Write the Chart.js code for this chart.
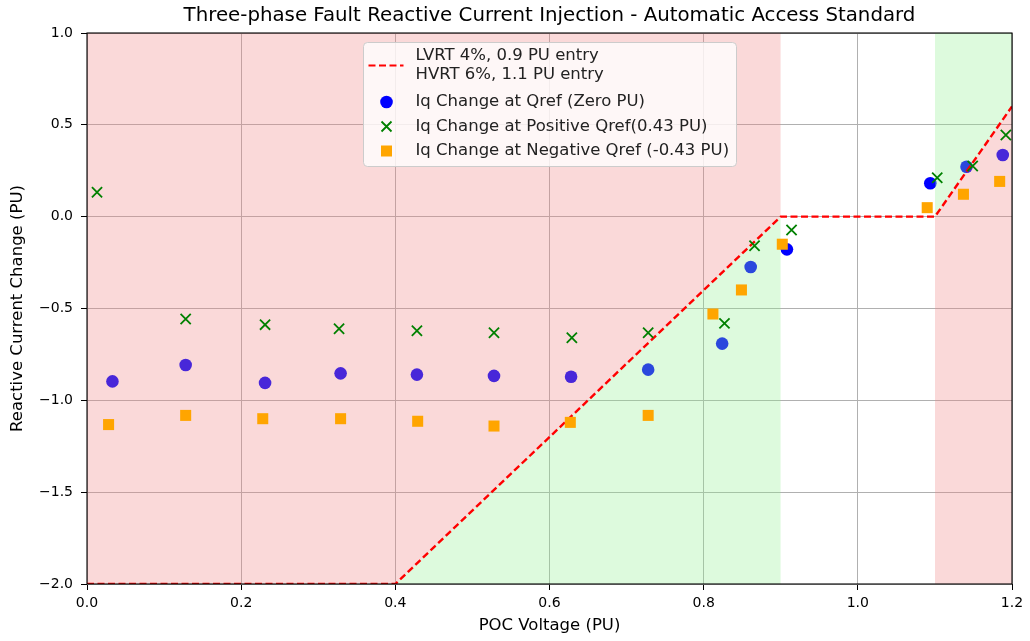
<!DOCTYPE html>
<html><head><meta charset="utf-8">
<script src="https://cdn.jsdelivr.net/npm/chart.js@4.4.0/dist/chart.umd.min.js"></script>
<style>html,body{margin:0;padding:0;background:#fff;} #wrap{width:1030px;height:641px;}</style>
</head><body><div id="wrap"><canvas id="c" width="1030" height="641"></canvas></div>
<script>
// ---- data ----
const voltageZero = [0.033,0.128,0.231,0.329,0.428,0.528,0.628,0.728,0.824,0.861,0.908,1.094,1.141,1.188];
const iqZero      = [-0.897,-0.808,-0.905,-0.853,-0.860,-0.867,-0.872,-0.833,-0.691,-0.274,-0.178,0.182,0.272,0.336];
const voltagePos  = [0.013,0.128,0.231,0.327,0.428,0.528,0.629,0.728,0.827,0.866,0.914,1.103,1.149,1.192];
const iqPos       = [0.133,-0.557,-0.588,-0.610,-0.621,-0.632,-0.659,-0.632,-0.581,-0.158,-0.073,0.212,0.276,0.445];
const voltageNeg  = [0.028,0.128,0.228,0.329,0.429,0.528,0.627,0.728,0.812,0.849,0.902,1.090,1.137,1.184];
const iqNeg       = [-1.132,-1.082,-1.100,-1.100,-1.114,-1.140,-1.120,-1.082,-0.530,-0.399,-0.150,0.049,0.122,0.192];
const limitVoltage = [0, 0.4, 0.9, 1.1, 1.2];
const limitIq      = [-2, -2, 0, 0, 0.6];
const limitLabel = ["LVRT 4%, 0.9 PU entry", "HVRT 6%, 1.1 PU entry"];
const zeroLabel = "Iq Change at Qref (Zero PU)";
const posLabel = "Iq Change at Positive Qref(0.43 PU)";
const negLabel = "Iq Change at Negative Qref (-0.43 PU)";
const titleText = "Three-phase Fault Reactive Current Injection - Automatic Access Standard";
const xAxisLabel = "POC Voltage (PU)";
const yAxisLabel = "Reactive Current Change (PU)";
const xRange = [0, 1.2], xStep = 0.2;
const yRange = [-2, 1], yStep = 0.5;

const pts = (xs, ys) => xs.map((x, i) => ({x, y: ys[i]}));
const limitPts = pts(limitVoltage, limitIq);
const lvrtPts = limitPts.slice(0, 3);
const lvrtRampPts = limitPts.slice(1, 3);
const hvrtPts = limitPts.slice(3, 5);

const FONT = "'DejaVu Sans', sans-serif";
const PINK = 'rgba(240,128,128,0.3)';
const LGREEN = 'rgba(144,238,144,0.3)';
const fmt = v => { const s = Number(v).toFixed(1); return s.replace('-', '\u2212'); };

const fillDs = (data, fill, color, order) => ({
  type: 'line', data, fill, backgroundColor: color, borderColor: 'rgba(0,0,0,0)',
  borderWidth: 0, pointRadius: 0, order, showLine: true, tension: 0
});

const frameAndLegend = {
  id: 'frameAndLegend',
  afterDraw(chart) {
    const ctx = chart.ctx, a = chart.chartArea;
    ctx.save();
    ctx.strokeStyle = '#000'; ctx.lineWidth = 1.1;
    ctx.strokeRect(a.left, a.top, a.right - a.left, a.bottom - a.top);
    // title centred over the axes
    ctx.font = '19.8px ' + FONT; ctx.fillStyle = '#000'; ctx.textAlign = 'center'; ctx.textBaseline = 'middle';
    ctx.fillText(titleText, (a.left + a.right) / 2, a.top - 17);
    // legend (upper center)
    const w = 373, h = 124;
    const lx = Math.round((a.left + a.right) / 2 - w / 2) + 0.5, ly = a.top + 9.5;
    ctx.beginPath();
    if (ctx.roundRect) ctx.roundRect(lx, ly, w, h, 4); else ctx.rect(lx, ly, w, h);
    ctx.fillStyle = 'rgba(255,255,255,0.8)'; ctx.fill();
    ctx.strokeStyle = '#cccccc'; ctx.lineWidth = 1; ctx.stroke();
    const mx = lx + 23, tx = lx + 52;
    ctx.font = '16.5px ' + FONT; ctx.fillStyle = '#222'; ctx.textBaseline = 'middle'; ctx.textAlign = 'left';
    // line entry
    ctx.fillText(limitLabel[0], tx, ly + 13.5);
    ctx.fillText(limitLabel[1], tx, ly + 32);
    ctx.save(); ctx.strokeStyle = 'red'; ctx.lineWidth = 2.2; ctx.setLineDash([7, 3.5]);
    ctx.beginPath(); ctx.moveTo(lx + 5, ly + 23); ctx.lineTo(lx + 40, ly + 23); ctx.stroke(); ctx.restore();
    // blue
    ctx.fillText(zeroLabel, tx, ly + 59.5);
    ctx.fillStyle = 'blue'; ctx.beginPath(); ctx.arc(mx, ly + 59.5, 6.3, 0, Math.PI * 2); ctx.fill();
    // green x
    ctx.fillStyle = '#222';
    ctx.fillText(posLabel, tx, ly + 84);
    ctx.strokeStyle = 'green'; ctx.lineWidth = 1.8; const d = 5;
    ctx.beginPath(); ctx.moveTo(mx - d, ly + 84 - d); ctx.lineTo(mx + d, ly + 84 + d);
    ctx.moveTo(mx - d, ly + 84 + d); ctx.lineTo(mx + d, ly + 84 - d); ctx.stroke();
    // orange square
    ctx.fillText(negLabel, tx, ly + 108.5);
    ctx.fillStyle = 'orange'; ctx.fillRect(mx - 5.5, ly + 108.5 - 5.5, 11, 11);
    ctx.restore();
  }
};

new Chart(document.getElementById('c'), {
  type: 'scatter',
  data: {
    datasets: [
      { label: zeroLabel, data: pts(voltageZero, iqZero), pointStyle: 'circle', pointRadius: 6.3,
        backgroundColor: 'blue', borderColor: 'blue', borderWidth: 0, order: 10 },
      fillDs(lvrtPts, 'end', PINK, 9),
      fillDs(lvrtRampPts, 'start', LGREEN, 8),
      fillDs(hvrtPts, 'end', LGREEN, 7),
      fillDs(hvrtPts, 'start', PINK, 6),
      { type: 'line', label: limitLabel.join('\n'), data: limitPts, borderColor: 'red', borderWidth: 2.4,
        borderDash: [7, 3.5], pointRadius: 0, fill: false, showLine: true, tension: 0, order: 5 },
      { label: posLabel, data: pts(voltagePos, iqPos), pointStyle: 'crossRot', pointRadius: 7.2,
        borderColor: 'green', backgroundColor: 'green', borderWidth: 1.8, order: 4 },
      { label: negLabel, data: pts(voltageNeg, iqNeg), pointStyle: 'rect', pointRadius: 7.8,
        backgroundColor: 'orange', borderColor: 'orange', borderWidth: 0, order: 3 }
    ]
  },
  options: {
    responsive: false, animation: false, events: [],
    layout: { padding: { left: 0, right: 18, top: 33, bottom: 0 } },
    plugins: {
      legend: { display: false }, tooltip: { enabled: false }, title: { display: false }
    },
    scales: {
      x: { type: 'linear', min: xRange[0], max: xRange[1],
        afterFit: s => { s.height = 57; },
        ticks: { stepSize: xStep, callback: fmt, color: '#000', padding: 5,
          font: { family: FONT, size: 14 }, maxRotation: 0, autoSkip: false },
        grid: { color: '#b0b0b0', lineWidth: 1, drawTicks: true, tickLength: 6, tickColor: '#000', tickWidth: 1 },
        border: { display: false },
        title: { display: true, text: xAxisLabel, color: '#000', font: { family: FONT, size: 16.5 },
          padding: { top: 5, bottom: 5 } } },
      y: { type: 'linear', min: yRange[0], max: yRange[1],
        afterFit: s => { s.width = 87; },
        ticks: { stepSize: yStep, callback: fmt, color: '#000', padding: 8,
          font: { family: FONT, size: 14 }, autoSkip: false },
        grid: { color: '#b0b0b0', lineWidth: 1, drawTicks: true, tickLength: 6, tickColor: '#000', tickWidth: 1 },
        border: { display: false },
        title: { display: true, text: yAxisLabel, color: '#000', font: { family: FONT, size: 16.5 },
          padding: { top: 8, bottom: 8 } } }
    }
  },
  plugins: [frameAndLegend]
});
</script>
</body></html>
